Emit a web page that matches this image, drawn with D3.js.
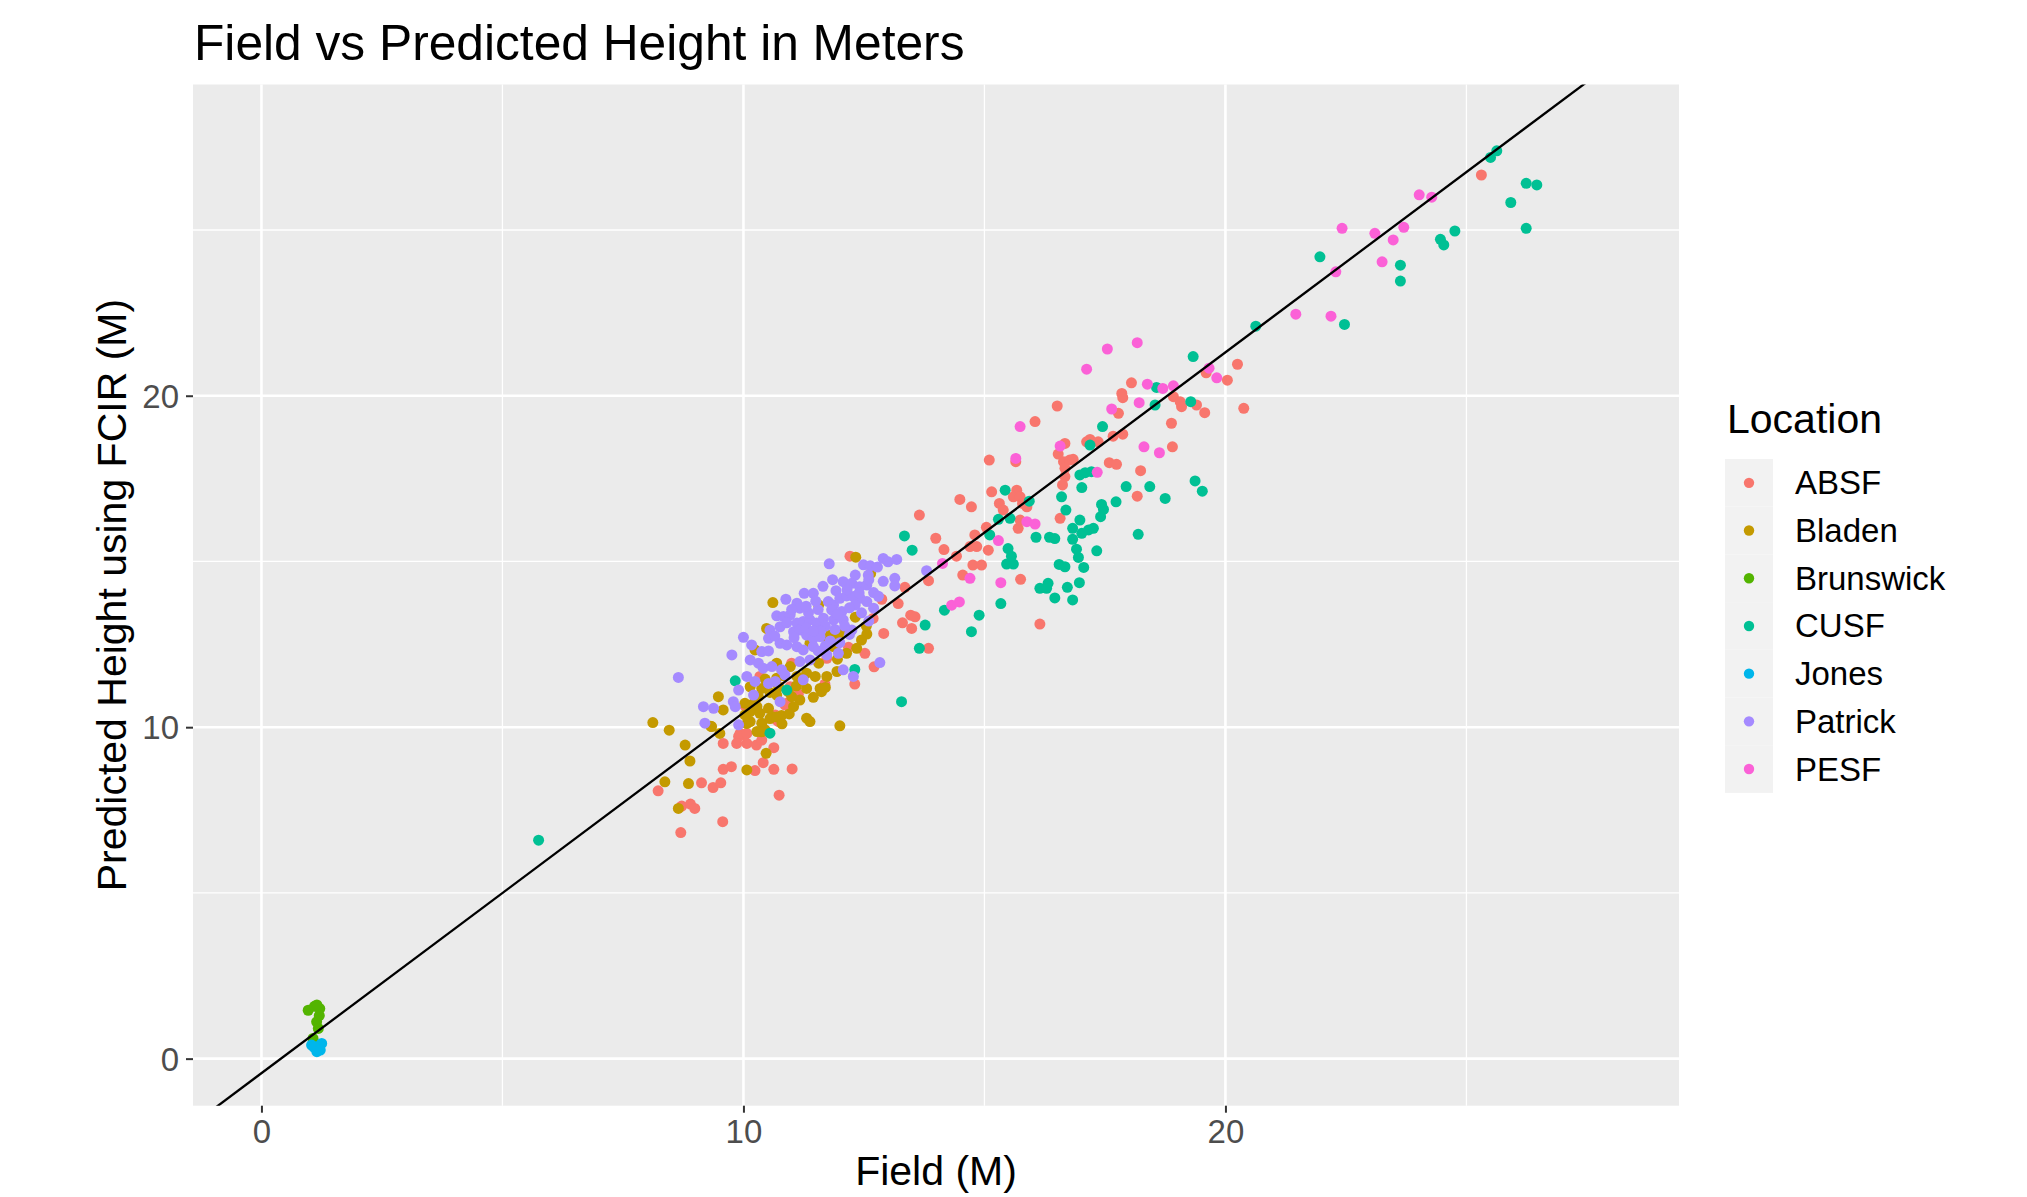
<!DOCTYPE html>
<html>
<head>
<meta charset="utf-8">
<script src="https://cdn.jsdelivr.net/npm/d3@7"></script>
<style>
  html, body { margin: 0; padding: 0; background: #ffffff; }
  svg { display: block; }
  text { font-family: "Liberation Sans", Arial, Helvetica, sans-serif; }
</style>
</head>
<body>
<div id="chart"></div>
<script>
// ---------------- DATA ----------------
const title = "Field vs Predicted Height in Meters";
const xTitle = "Field (M)";
const yTitle = "Predicted Height using FCIR (M)";
const legendTitle = "Location";
const locations = ["ABSF", "Bladen", "Brunswick", "CUSF", "Jones", "Patrick", "PESF"];
const locationColors = ["#F8766D", "#C49A00", "#53B400", "#00C094", "#00B6EB", "#A58AFF", "#FB61D7"];
const xTicks = [0, 10, 20];
const yTicks = [0, 10, 20];
const minorTicks = [5, 15, 25];
const xDomain = [-1.42, 29.41];
const yDomain = [-1.42, 29.39];
// reference line: predicted = slope * field + intercept
const lineSlope = 1.0875;
const lineIntercept = -0.44;

// points [field, predicted]
const absf = [
  [25.31,26.66],[20.25,20.95],[19.60,20.69],[20.04,20.47],[20.38,19.62],[19.40,19.72],[19.57,19.49],
  [18.05,20.39],[17.85,20.07],[17.87,19.94],[16.51,19.69],[16.05,19.22],[17.78,19.47],[18.92,19.97],[19.06,19.82],[19.09,19.67],
  [18.88,19.17],[18.90,18.46],[17.67,18.78],[17.87,18.84],[17.36,18.61],[17.12,18.61],[17.19,18.68],[16.67,18.56],[16.53,18.24],
  [16.64,18.01],[16.77,18.06],[16.84,18.08],[16.67,17.81],[16.67,17.56],[16.62,17.31],[17.59,17.98],[17.74,17.93],[18.24,17.74],
  [18.17,16.97],[16.57,16.30],[15.10,18.06],[15.65,18.01],[15.15,17.10],[15.67,17.15],[15.60,16.95],[15.74,16.95],[15.79,16.75],
  [15.31,16.75],[15.39,16.55],[15.88,16.65],[15.70,16.00],[15.74,16.25],[14.49,16.87],[14.73,16.65],[13.65,16.40],[13.99,15.70],
  [14.16,15.36],[14.42,15.16],[14.80,15.80],[14.70,15.45],[14.84,15.45],[15.04,16.03],[15.08,15.34],[14.76,14.89],[14.94,14.89],
  [14.55,14.59],[13.84,14.42],[15.75,14.46],[16.15,13.11],[13.35,14.22],[13.21,13.73],[12.91,12.83],[13.47,13.38],[13.56,13.33],
  [13.30,13.15],[13.49,12.98],[13.84,12.38],[12.87,13.86],[12.69,13.28],[12.52,12.23],[12.71,11.82],[12.31,11.30],[12.21,15.16],
  [12.18,12.41],[11.73,12.08],[11.69,11.30],[11.00,11.93],[10.34,11.53],[10.97,11.22],[11.14,11.00],[10.86,10.67],[10.03,10.65],
  [10.24,10.72],[10.66,10.37],[10.90,10.72],[10.73,10.17],[10.03,9.77],[9.90,9.72],[10.69,10.21],[9.93,9.81],[10.07,9.81],
  [9.58,9.51],[9.86,9.51],[10.07,9.51],[10.27,9.46],[10.38,9.61],[10.63,9.38],[10.41,8.93],[9.58,8.73],[9.75,8.81],[10.24,8.69],
  [10.63,8.73],[11.01,8.74],[9.13,8.32],[9.37,8.18],[9.53,8.32],[8.23,8.08],[8.72,7.62],[8.90,7.68],[8.99,7.55],[9.57,7.15],
  [8.70,6.82],[10.74,7.95]
];
const bladen = [
  [12.33,15.13],[12.64,14.64],[10.61,13.76],[11.56,13.69],[10.48,12.98],[12.32,13.32],[11.97,12.78],[12.56,12.81],[12.45,12.63],
  [11.73,12.68],[11.80,12.78],[11.38,12.53],[12.35,12.38],[12.14,12.23],[11.87,12.43],[10.24,12.33],[10.69,11.93],[10.97,11.83],
  [11.56,11.93],[11.94,11.68],[11.73,11.53],[11.49,11.53],[11.31,11.63],[11.11,11.53],[10.69,11.48],[10.14,11.22],[10.38,11.17],
  [10.73,11.22],[10.93,11.07],[11.31,11.17],[11.59,11.17],[11.62,11.07],[11.17,10.82],[11.00,10.92],[10.69,10.97],[9.48,10.92],
  [10.31,10.92],[10.28,10.62],[10.03,10.72],[10.14,10.47],[10.34,10.42],[10.52,10.57],[10.59,10.32],[10.79,10.35],[11.04,10.62],
  [11.31,10.27],[11.38,10.17],[9.58,10.52],[9.34,10.02],[10.14,10.17],[10.38,10.12],[12.00,10.04],[10.45,9.92],[10.28,9.87],
  [8.12,10.14],[8.46,9.91],[9.32,10.03],[9.51,9.81],[8.79,9.46],[8.89,8.98],[8.37,8.35],[8.86,8.30],[8.65,7.55],[10.07,8.71],
  [10.47,9.21],[10.07,10.11],[10.38,9.86],[10.55,10.26],[10.69,10.31],[10.03,10.37],
  [10.45,11.45],[10.85,11.55],[11.10,11.25],[10.55,11.05],[10.95,10.40],[11.45,10.90],[10.80,10.10],[12.10,12.95],[11.95,12.05],
  [12.55,13.05],[10.20,10.70],[11.70,11.20]
];
const brunswick = [
  [0.97,1.46],[1.10,1.58],[1.21,1.51],[1.15,1.62],[1.145,1.11],[1.18,0.91],[1.07,0.61],[1.20,1.30]
];
const cusf = [
  [25.63,27.39],[25.50,27.19],[26.24,26.41],[26.46,26.36],[25.92,25.83],[26.24,25.05],[24.76,24.97],[24.46,24.72],[24.53,24.55],
  [23.63,23.94],[23.63,23.46],[21.96,24.19],[22.47,22.15],[20.63,22.10],[19.33,21.18],[19.28,19.82],
  [18.57,20.25],[18.54,19.72],[17.45,19.07],[17.19,18.51],[16.98,17.61],[17.09,17.68],[17.22,17.71],[17.02,17.23],[16.60,16.95],
  [16.69,16.55],[17.94,17.26],[18.43,17.26],[19.37,17.43],[19.52,17.12],[18.75,16.90],[17.73,16.80],[17.43,16.72],[17.47,16.57],
  [17.41,16.35],[16.98,16.25],[16.83,16.00],[17.02,15.85],[17.16,15.95],[17.26,16.00],[16.83,15.67],[16.91,15.37],[16.95,15.12],
  [17.06,14.82],[17.33,15.32],[18.19,15.82],[16.35,15.73],[16.46,15.69],[16.07,15.73],[16.55,14.91],[16.67,14.84],[16.97,14.36],
  [16.72,14.22],[16.32,14.34],[16.15,14.19],[16.29,14.19],[16.46,13.90],[16.83,13.84],[15.43,17.15],[15.11,15.80],[15.49,15.39],
  [15.56,15.16],[15.46,14.92],[15.60,14.92],[15.34,13.73],[14.89,13.38],[14.73,12.88],[14.17,13.53],[13.77,13.08],[13.65,12.38],
  [13.34,15.77],[13.50,15.34],[15.29,16.27],[15.53,16.30],[15.93,16.82],[13.28,10.77],[12.31,11.74],[9.83,11.40],[10.90,11.12],
  [10.55,9.82],[5.75,6.59]
];
const jones = [
  [1.04,0.41],[1.15,0.31],[1.25,0.46],[1.15,0.21],[1.20,0.38],[1.10,0.33],[1.22,0.26]
];
const patrick = [
  [11.78,14.93],[12.49,14.90],[12.63,14.87],[12.78,14.83],[12.59,14.59],[12.32,14.59],[12.07,14.39],[12.25,14.34],[12.41,14.24],
  [12.56,14.29],[12.70,14.06],[11.92,14.12],[11.26,14.04],[11.45,14.04],[10.88,13.86],[11.11,13.74],[11.17,13.59],[11.76,13.79],
  [11.87,13.69],[12.00,13.89],[12.14,13.96],[12.28,13.94],[12.42,13.89],[12.56,13.79],[12.70,13.59],[12.32,13.69],[11.83,13.54],
  [12.04,13.49],[10.69,13.36],[10.83,13.34],[10.97,13.39],[10.55,12.93],[10.52,12.68],[10.76,13.03],[11.11,13.14],[11.24,13.19],
  [11.38,13.24],[11.52,13.14],[11.66,13.29],[11.87,13.24],[12.07,13.24],[12.25,12.93],[11.04,12.88],[11.17,12.93],[11.31,12.78],
  [11.45,12.68],[11.59,12.73],[10.00,12.71],[10.17,12.48],[10.38,12.28],[10.52,12.30],[10.76,12.53],[10.90,12.48],[11.11,12.43],
  [11.24,12.33],[11.45,12.43],[11.97,12.23],[11.73,12.18],[9.76,12.18],[10.14,12.03],[10.31,11.93],[10.41,11.78],[10.59,11.83],
  [10.79,11.73],[11.17,11.98],[11.38,12.03],[12.07,11.73],[12.28,11.53],[12.83,11.95],[10.07,11.53],[10.24,11.38],[10.86,11.58],
  [9.90,11.12],[10.21,10.97],[10.52,11.32],[10.66,11.38],[11.24,11.43],[10.76,10.77],[9.79,10.77],[9.83,10.62],[9.17,10.62],
  [9.38,10.57],[9.20,10.12],[9.90,10.07],[8.65,11.50],[12.90,15.09],[13.00,14.99],[13.18,15.06],[13.14,14.49],[13.14,14.26],
  [13.80,14.72],
  [11.35,13.45],[11.55,13.55],[11.70,13.05],[11.90,12.95],[12.10,13.05],[12.45,13.45],[12.60,13.20],[11.60,12.90],[11.80,12.60],
  [12.00,12.55],[11.30,13.00],[11.45,12.90],[11.95,13.40],[12.20,13.60],[12.40,14.05],[12.15,14.15],[11.65,14.25],[11.50,13.80],
  [11.30,13.65],[11.00,13.55],[10.90,13.15],[11.70,12.45],[11.55,12.30],[12.20,12.80],[12.80,13.95],[12.90,14.40],[12.60,14.45],
  [11.85,14.45],[11.05,12.70],[10.65,12.75]
];
const pesf = [
  [24.02,26.06],[24.28,25.99],[22.42,25.05],[23.10,24.90],[23.70,25.08],[23.48,24.70],[23.25,24.04],[22.29,23.74],[21.46,22.46],
  [22.19,22.40],[19.66,20.83],[19.82,20.54],
  [17.55,21.41],[18.17,21.60],[17.12,20.80],[18.38,20.35],[18.70,20.22],[18.92,20.30],[18.21,19.79],[17.64,19.60],[15.74,19.07],
  [16.57,18.48],[15.65,18.11],[17.34,17.69],[18.31,18.46],[18.63,18.28],[15.88,16.20],[16.05,16.13],[15.29,15.63],[14.13,14.94],
  [14.70,14.49],[15.34,14.36],[14.32,13.68],[14.48,13.78]
];
const seriesPoints = [absf, bladen, brunswick, cusf, jones, patrick, pesf];

// ---------------- LAYOUT ----------------
const W = 2027, H = 1197;
const panel = { left: 193, right: 1679, top: 84.5, bottom: 1105.7 };
const fontTitle = 49.7, fontAxisTitle = 41, fontTick = 33, fontLegendTitle = 41, fontLegendText = 33;
const pointR = 5.5;

const svg = d3.select("#chart").append("svg")
  .attr("width", W).attr("height", H)
  .attr("viewBox", `0 0 ${W} ${H}`);

const x = d3.scaleLinear().domain(xDomain).range([panel.left, panel.right]);
const y = d3.scaleLinear().domain(yDomain).range([panel.bottom, panel.top]);
const color = d3.scaleOrdinal().domain(locations).range(locationColors);

// panel background
svg.append("rect")
  .attr("x", panel.left).attr("y", panel.top)
  .attr("width", panel.right - panel.left).attr("height", panel.bottom - panel.top)
  .attr("fill", "#EBEBEB");

svg.append("clipPath").attr("id", "panelClip")
  .append("rect")
  .attr("x", panel.left).attr("y", panel.top)
  .attr("width", panel.right - panel.left).attr("height", panel.bottom - panel.top);

const grid = svg.append("g");
// minor grid
grid.selectAll("line.vminor").data(minorTicks).enter().append("line")
  .attr("x1", d => x(d)).attr("x2", d => x(d))
  .attr("y1", panel.top).attr("y2", panel.bottom)
  .attr("stroke", "#FFFFFF").attr("stroke-width", 1.3);
grid.selectAll("line.hminor").data(minorTicks).enter().append("line")
  .attr("y1", d => y(d)).attr("y2", d => y(d))
  .attr("x1", panel.left).attr("x2", panel.right)
  .attr("stroke", "#FFFFFF").attr("stroke-width", 1.3);
// major grid
grid.selectAll("line.vmajor").data(xTicks).enter().append("line")
  .attr("x1", d => x(d)).attr("x2", d => x(d))
  .attr("y1", panel.top).attr("y2", panel.bottom)
  .attr("stroke", "#FFFFFF").attr("stroke-width", 2.6);
grid.selectAll("line.hmajor").data(yTicks).enter().append("line")
  .attr("y1", d => y(d)).attr("y2", d => y(d))
  .attr("x1", panel.left).attr("x2", panel.right)
  .attr("stroke", "#FFFFFF").attr("stroke-width", 2.6);

// points
const plot = svg.append("g").attr("clip-path", "url(#panelClip)");
locations.forEach((loc, i) => {
  plot.append("g").selectAll("circle").data(seriesPoints[i]).enter().append("circle")
    .attr("cx", d => x(d[0])).attr("cy", d => y(d[1]))
    .attr("r", pointR)
    .attr("fill", color(loc));
});

// reference line
const lx0 = xDomain[0] - 1, lx1 = xDomain[1] + 1;
plot.append("line")
  .attr("x1", x(lx0)).attr("y1", y(lineSlope * lx0 + lineIntercept))
  .attr("x2", x(lx1)).attr("y2", y(lineSlope * lx1 + lineIntercept))
  .attr("stroke", "#000000").attr("stroke-width", 2.3);

// axes
const xAxis = d3.axisBottom(x).tickValues(xTicks).tickSize(7).tickPadding(8).tickFormat(d3.format("d"));
const yAxis = d3.axisLeft(y).tickValues(yTicks).tickSize(7).tickPadding(7).tickFormat(d3.format("d"));

const gx = svg.append("g").attr("transform", `translate(0,${panel.bottom})`).call(xAxis);
const gy = svg.append("g").attr("transform", `translate(${panel.left},0)`).call(yAxis);
[gx, gy].forEach(g => {
  g.select(".domain").remove();
  g.selectAll(".tick line").attr("stroke", "#333333").attr("stroke-width", 2);
  g.selectAll(".tick text")
    .attr("fill", "#4D4D4D")
    .style("font-family", '"Liberation Sans", Arial, Helvetica, sans-serif')
    .style("font-size", fontTick + "px");
});
gx.selectAll(".tick text").attr("dy", null).attr("y", 37);
gy.selectAll(".tick text").attr("dy", "0.35em");

// titles
svg.append("text")
  .attr("x", 194).attr("y", 60)
  .attr("font-size", fontTitle).attr("fill", "#000")
  .text(title);

svg.append("text")
  .attr("x", (panel.left + panel.right) / 2).attr("y", 1185)
  .attr("text-anchor", "middle")
  .attr("font-size", fontAxisTitle).attr("fill", "#000")
  .text(xTitle);

svg.append("text")
  .attr("transform", `translate(126,${(panel.top + panel.bottom) / 2}) rotate(-90)`)
  .attr("text-anchor", "middle")
  .attr("font-size", fontAxisTitle).attr("fill", "#000")
  .text(yTitle);

// legend
const legend = svg.append("g");
legend.append("text")
  .attr("x", 1727).attr("y", 433)
  .attr("font-size", fontLegendTitle).attr("fill", "#000")
  .text(legendTitle);
const keyTop = 459, keyH = 47.7, keyX = 1725, keyW = 48;
const keys = legend.selectAll("g.key").data(locations).enter().append("g")
  .attr("transform", (d, i) => `translate(0,${keyTop + i * keyH})`);
keys.append("rect")
  .attr("x", keyX).attr("y", 0).attr("width", keyW).attr("height", keyH)
  .attr("fill", "#F2F2F2");
keys.append("circle")
  .attr("cx", keyX + keyW / 2).attr("cy", keyH / 2).attr("r", 5.2)
  .attr("fill", d => color(d));
keys.append("text")
  .attr("x", 1795).attr("y", keyH / 2).attr("dy", "0.35em")
  .attr("font-size", fontLegendText).attr("fill", "#000")
  .text(d => d);
</script>
</body>
</html>
